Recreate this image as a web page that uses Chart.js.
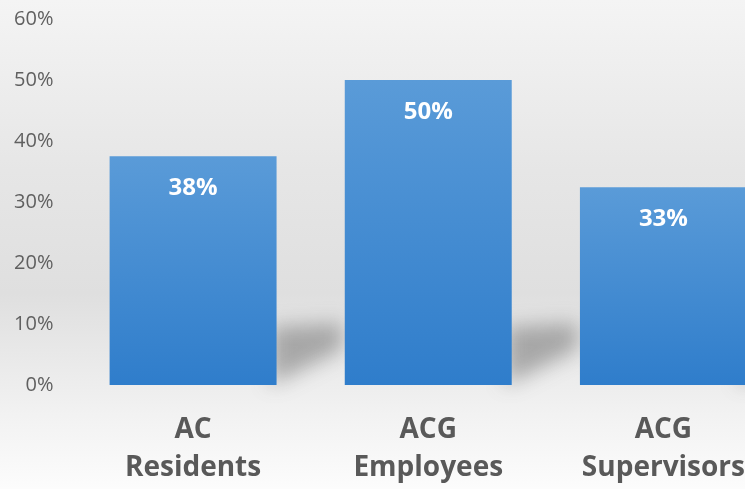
<!DOCTYPE html>
<html>
<head>
<meta charset="utf-8">
<script src="https://cdn.jsdelivr.net/npm/chart.js@4.4.1/dist/chart.umd.min.js"></script>
<style>
  html, body { margin: 0; padding: 0; overflow: hidden; }
  body { width: 745px; height: 489px;
         background: linear-gradient(to bottom, #f4f4f4 0%, #e6e6e6 35%, #dfdfdf 60%, #f2f2f2 85%, #fcfcfc 100%); }
  #wrap { width: 800px; height: 504px; position: relative; top: -15px; }
</style>
</head>
<body>
<div id="wrap"><canvas id="bar-chart"></canvas></div>
<script>
const categories = [['AC', 'Residents'], ['ACG', 'Employees'], ['ACG', 'Supervisors']];
const shares = [37.5, 50, 32.4];
const shareLabels = ['38%', '50%', '33%'];
const yTicks = [0, 10, 20, 30, 40, 50, 60];

// soft cast shadow behind each bar, like the office chart style
const barShadow = {
    id: 'barShadow',
    beforeDatasetsDraw(chart) {
        const ctx = chart.ctx;
        chart.getDatasetMeta(0).data.forEach(bar => {
            const r = bar.x + bar.width / 2;
            const b = bar.base;
            ctx.save();
            ctx.filter = 'blur(10px)';
            ctx.fillStyle = 'rgba(70,70,70,0.4)';
            ctx.beginPath();
            ctx.moveTo(r - 6, b);
            ctx.lineTo(r - 6, b - 58);
            ctx.lineTo(r + 66, b - 62);
            ctx.lineTo(r + 66, b - 36);
            ctx.closePath();
            ctx.fill();
            ctx.restore();
        });
    }
};

const valueLabels = {
    id: 'valueLabels',
    afterDatasetsDraw(chart) {
        const ctx = chart.ctx;
        ctx.save();
        ctx.fillStyle = '#ffffff';
        ctx.font = 'bold 24px "Open Sans", sans-serif';
        ctx.textAlign = 'center';
        ctx.textBaseline = 'middle';
        chart.getDatasetMeta(0).data.forEach((bar, i) => {
            ctx.fillText(shareLabels[i], bar.x, bar.y + 32);
        });
        ctx.restore();
    }
};

function barGradient(context) {
    const chart = context.chart;
    if (!chart.chartArea) return '#4a8fd3';
    const y = chart.scales.y;
    const top = y.getPixelForValue(context.raw);
    const bottom = y.getPixelForValue(0);
    const g = chart.ctx.createLinearGradient(0, top, 0, bottom);
    g.addColorStop(0, '#5a9bd8');
    g.addColorStop(1, '#2f7dcb');
    return g;
}

new Chart(document.getElementById('bar-chart').getContext('2d'), {
    type: 'bar',
    data: {
        labels: categories,
        datasets: [{
            data: shares,
            backgroundColor: barGradient,
            borderWidth: 0,
            categoryPercentage: 0.71,
            barPercentage: 1
        }]
    },
    plugins: [barShadow, valueLabels],
    options: {
        responsive: true,
        maintainAspectRatio: false,
        animation: false,
        layout: { padding: { top: 2, right: 19, left: 0, bottom: 0 } },
        plugins: {
            legend: { display: false },
            tooltip: { enabled: false }
        },
        scales: {
            x: {
                grid: { display: false, drawTicks: false },
                border: { display: false },
                ticks: {
                    color: '#595959',
                    font: { family: '"Open Sans", sans-serif', size: 28, weight: 'bold', lineHeight: 1.35 },
                    padding: 26,
                    maxRotation: 0
                },
                afterFit(scale) { scale.height = 104; }
            },
            y: {
                min: 0,
                max: 60,
                grid: { display: false, drawTicks: false },
                border: { display: false },
                afterBuildTicks(scale) { scale.ticks = yTicks.map(v => ({ value: v })); },
                ticks: {
                    color: '#606060',
                    font: { family: '"Open Sans", sans-serif', size: 20 },
                    padding: 22,
                    callback: v => v + '%'
                },
                afterFit(scale) { scale.width = 75.5; }
            }
        }
    }
});
</script>
</body>
</html>
